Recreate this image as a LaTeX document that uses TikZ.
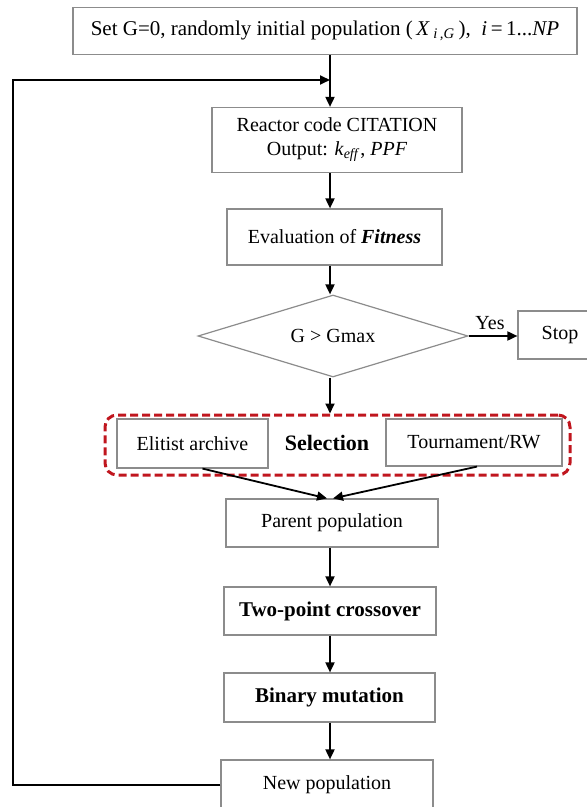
\documentclass[tikz,border=0pt]{standalone}
\usepackage{fontspec}
\setmainfont{Liberation Serif}
\usetikzlibrary{shapes.geometric}
\usetikzlibrary{arrows.meta}

\definecolor{selred}{RGB}{192,22,30}
\definecolor{boxgray}{RGB}{140,140,140}

\begin{document}
\begin{tikzpicture}[x=0.5pt,y=-0.5pt]
            \tikzset{box/.style={draw=boxgray, line width=0.6pt, fill=white, align=center, inner sep=0pt, font=\fontsize{10}{12}\selectfont}};
            \tikzset{arr/.style={line width=0.9pt, -{Triangle[length=5pt,width=4.5pt]}}};
            
            \useasboundingbox (0,0) rectangle (587,807);
            \coordinate (spine) at (330,0);
            
            \node[box, minimum width=252pt, minimum height=23.5pt, font=\fontsize{10.5}{12}\selectfont] (init) at (325,31)
                {Set G=0, randomly initial population (\,\textit{X}\,\textsubscript{\textit{i\,,G}}\,),\ \ \textit{i}\,=\,1...\textit{NP}};
            \node[box, minimum width=125pt, minimum height=32.5pt] (reactor) at (337,140)
                {Reactor code CITATION\\Output: \textit{k}\textsubscript{\textit{eff}}, \textit{PPF}};
            \node[box, minimum width=107.5pt, minimum height=28pt] (eval) at (334.5,237)
                {Evaluation of \textbf{\textit{Fitness}}};
            \node[box, shape=diamond, aspect=3.3, minimum width=135pt, minimum height=41pt] (cond) at (333,336)
                {G > Gmax};
            \node[box, minimum width=42pt, minimum height=24pt] (stop) at (560,335) {Stop};
            \node[font=\fontsize{10}{12}\selectfont] (yes) at (490,323) {Yes};
            
            \node[draw=selred, line width=1.5pt, dash pattern=on 4pt off 2pt, rounded corners=6pt,
                minimum width=232.5pt, minimum height=30pt] (sel) at (337.5,445) {};
            \node[box, minimum width=75.5pt, minimum height=24.5pt] (elite) at (192.5,443.5) {Elitist archive};
            \node[box, minimum width=88pt, minimum height=23.5pt] (tourn) at (474,442.5) {Tournament/RW};
            \node[font=\bfseries\fontsize{11}{13}\selectfont] (sellabel) at (327,443) {Selection};
            
            \node[box, minimum width=106pt, minimum height=24pt] (parent) at (332,523) {Parent population};
            \node[box, minimum width=106pt, minimum height=24pt, font=\bfseries\fontsize{10.5}{12}\selectfont] (cross) at (330,611) {Two-point crossover};
            \node[box, minimum width=105.5pt, minimum height=24.5pt, font=\bfseries\fontsize{10.5}{12}\selectfont] (mut) at (329.5,697.5) {Binary mutation};
            \node[box, minimum width=106pt, minimum height=25pt] (newpop) at (327,785) {New population};
            
            \draw[arr] (init.south -| spine) -- (reactor.north -| spine);
            \draw[arr] (reactor.south -| spine) -- (eval.north -| spine);
            \draw[arr] (eval.south -| spine) -- (cond.north -| spine);
            \draw[arr] (cond.east) -- (cond.east -| stop.west);
            \draw[arr] (cond.south -| spine) -- (sel.north -| spine);
            \draw[arr] ([xshift=5pt]elite.south) -- ([xshift=-1.5pt]parent.north -| spine);
            \draw[arr] ([xshift=1.5pt]tourn.south) -- ([xshift=1.5pt]parent.north -| spine);
            \draw[arr] (parent.south -| spine) -- (cross.north -| spine);
            \draw[arr] (cross.south -| spine) -- (mut.north -| spine);
            \draw[arr] (mut.south -| spine) -- (newpop.north -| spine);
            
            % loop back to the next generation
            \coordinate (back) at (13,785);
            \coordinate (join) at (330,80);
            \draw[arr] (newpop.west) -- (back) -- (back |- join) -- (join);
\end{tikzpicture}
\end{document}
